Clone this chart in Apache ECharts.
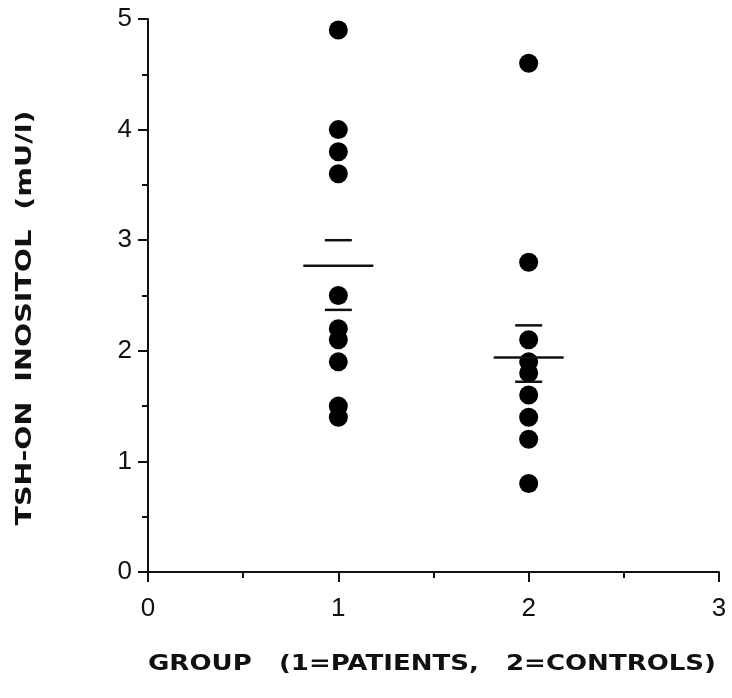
<!DOCTYPE html>
<html>
<head>
<meta charset="utf-8">
<script src="https://cdn.jsdelivr.net/npm/echarts@6/dist/echarts.min.js"></script>
<style>
html,body{margin:0;padding:0;background:#fff;}
#chart{width:732px;height:698px;}
</style>
</head>
<body>
<div id="chart"></div>
<script>
// ---- data ----
const groups = [1, 2];
const patients = [4.9, 4.0, 3.8, 3.6, 2.5, 2.2, 2.1, 1.9, 1.5, 1.4];
const controls = [4.6, 2.8, 2.1, 1.9, 1.8, 1.6, 1.4, 1.2, 0.8];
const means = [2.77, 1.94];
const seUpper = [3.0, 2.23];
const seLower = [2.37, 1.72];
const xTicks = [0, 1, 2, 3];
const yTicks = [0, 1, 2, 3, 4, 5];
const xTitle = 'GROUP   (1=PATIENTS,   2=CONTROLS)';
const yTitle = 'TSH-ON  INOSITOL  (mU/l)';

const ink = '#111';
const tickFont = 'Liberation Sans';
const titleFont = 'bold 21px "DejaVu Sans"';

function fitScale(text, target) {
  const c = document.createElement('canvas').getContext('2d');
  c.font = titleFont;
  return target / c.measureText(text).width;
}

const chart = echarts.init(document.getElementById('chart'), null, {renderer: 'canvas'});

const pts = [];
patients.forEach(v => pts.push([groups[0], v]));
controls.forEach(v => pts.push([groups[1], v]));

function axis(extra, margin) {
  return Object.assign({
    type: 'value',
    splitLine: {show: false},
    axisLine: {show: true, lineStyle: {color: ink, width: 2, opacity: 1}},
    axisTick: {show: true, inside: false, length: 10, lineStyle: {color: ink, width: 2, opacity: 1}},
    minorTick: {show: true, splitNumber: 2, length: 6, lineStyle: {color: ink, width: 2, opacity: 1}},
    axisLabel: {color: ink, fontFamily: tickFont, fontSize: 26, margin: margin}
  }, extra);
}

chart.setOption({
  animation: false,
  backgroundColor: '#fff',
  grid: {left: 148, right: 13, top: 19, bottom: 126, containLabel: false},
  xAxis: axis({min: xTicks[0], max: xTicks[xTicks.length - 1], interval: 1}, 24),
  yAxis: axis({min: yTicks[0], max: yTicks[yTicks.length - 1], interval: 1}, 16),
  graphic: [
    {
      type: 'text', x: 432, y: 665, scaleX: fitScale(xTitle, 568),
      style: {text: xTitle, font: titleFont, fill: ink, align: 'center', verticalAlign: 'middle'}
    },
    {
      type: 'text', x: 26, y: 318, rotation: Math.PI / 2, scaleX: fitScale(yTitle, 415),
      style: {text: yTitle, font: titleFont, fill: ink, align: 'center', verticalAlign: 'middle'}
    }
  ],
  series: [
    {
      type: 'scatter', data: pts, symbol: 'circle', symbolSize: 19,
      itemStyle: {color: '#000', opacity: 1}, z: 2
    },
    {
      type: 'scatter', data: groups.map((g, i) => [g, means[i]]),
      symbol: 'rect', symbolSize: [70, 2.5], itemStyle: {color: ink, opacity: 1}, z: 3
    },
    {
      type: 'scatter', data: groups.map((g, i) => [g, seUpper[i]]).concat(groups.map((g, i) => [g, seLower[i]])),
      symbol: 'rect', symbolSize: [27, 2.5], itemStyle: {color: ink, opacity: 1}, z: 3
    }
  ]
});
</script>
</body>
</html>
